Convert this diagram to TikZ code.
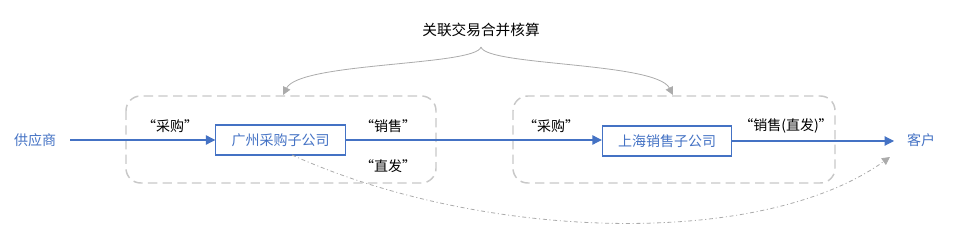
\documentclass[tikz,border=0pt]{standalone}
\usepackage{fontspec}
\setmainfont{Noto Sans CJK SC}
\usetikzlibrary{arrows.meta}
\definecolor{bblue}{HTML}{4472C4}
\definecolor{dgray}{HTML}{C8C8C8}
\definecolor{agray}{HTML}{ABABAB}
\begin{document}
\begin{tikzpicture}[x=0.75pt,y=-0.75pt,
  company/.style={draw=bblue, line width=0.8pt, text=bblue, font=\fontsize{10.5}{12}\selectfont, minimum width=97pt, minimum height=22.5pt, inner sep=0pt},
  endpoint/.style={text=bblue, font=\fontsize{10.5}{12}\selectfont, inner sep=1pt},
  lbl/.style={font=\fontsize{10.5}{12}\selectfont, inner sep=1pt},
  flow/.style={draw=bblue, line width=0.8pt, -{Triangle[length=7pt,width=7pt]}},
  group/.style={draw=dgray, line width=1.1pt, dash pattern=on 7pt off 4pt, rounded corners=11pt},
  garrow/.style={draw=agray, line width=0.6pt, -{Triangle[length=6pt,width=6pt]}},
  dd/.style={draw=agray, line width=0.6pt, dash pattern=on 3pt off 2pt on 0.8pt off 2pt, -{Triangle[length=6pt,width=6pt]}}
]
\useasboundingbox (0,0) rectangle (953,245);
% groups
\draw[group] (126,96) rectangle (436,183);
\draw[group] (513,96) rectangle (835,183);
% nodes
\node[endpoint] (sup) at (35,140) {供应商};
\node[endpoint] (cus) at (921,140) {客户};
\node[company] (gz) at (280.5,140) {广州采购子公司};
\node[company] (sh) at (667,141) {上海销售子公司};
\node[font=\fontsize{11}{13}\selectfont, inner sep=1pt] (title) at (481,30) {关联交易合并核算};
\coordinate (tip) at (481,47);
\coordinate (la) at (283,95);
\coordinate (ra) at (673,95);
\coordinate (cusin) at (890,157);
% flows
\draw[flow] (70,140) -- (gz.west);
\draw[flow] (gz.east) -- (sh.west |- gz.east);
\draw[flow] (sh.east) -- (894,141);
% labels
\node[lbl] (l1) at (170,126) {“采购”};
\node[lbl] (l2) at (388,126) {“销售”};
\node[lbl] (l3) at (388,166) {“直发”};
\node[lbl] (l4) at (551,126) {“采购”};
\node[lbl] (l5) at (786,126) {“销售(直发)”};
% brace arrows
\draw[garrow] (tip) .. controls (476,66) and (300,62) .. (la);
\draw[garrow] (tip) .. controls (486,66) and (656,62) .. (ra);
% direct shipping
\draw[dd] (292,155) .. controls (480,240) and (760,250) .. (cusin);
\end{tikzpicture}
\end{document}
